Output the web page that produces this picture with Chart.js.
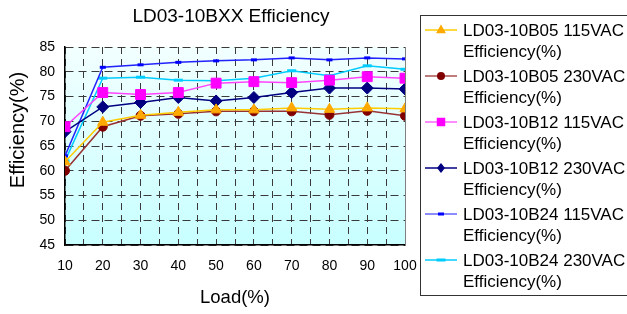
<!DOCTYPE html>
<html>
<head>
<meta charset="utf-8">
<script src="https://cdn.jsdelivr.net/npm/chart.js@4/dist/chart.umd.min.js"></script>
<style>
html,body{margin:0;padding:0;background:#fff;}
#wrap{width:627px;height:314px;position:relative;}
</style>
</head>
<body>
<div id="wrap"><canvas id="c" width="627" height="314"></canvas></div>
<script>
const loads = [10, 20, 30, 40, 50, 60, 70, 80, 90, 100];
const b05_115 = [61.8, 69.8, 71.2, 71.8, 72.3, 72.3, 72.7, 72.4, 72.7, 72.5];
const b05_230 = [60.0, 68.9, 71.1, 71.5, 72.0, 72.0, 72.0, 71.3, 72.1, 71.1];
const b12_115 = [68.9, 75.8, 75.4, 75.8, 77.7, 78.0, 77.8, 78.3, 79.0, 78.7];
const b12_230 = [67.9, 72.9, 73.8, 74.8, 74.1, 74.8, 75.8, 76.7, 76.7, 76.5];
const b24_115 = [63.0, 80.9, 81.4, 81.9, 82.2, 82.4, 82.8, 82.4, 82.8, 82.6];
const b24_230 = [62.0, 78.7, 78.9, 78.3, 78.2, 78.7, 80.2, 79.2, 81.2, 80.5];
const seriesNames = [
  ["LD03-10B05 115VAC", "Efficiency(%)"],
  ["LD03-10B05 230VAC", "Efficiency(%)"],
  ["LD03-10B12 115VAC", "Efficiency(%)"],
  ["LD03-10B12 230VAC", "Efficiency(%)"],
  ["LD03-10B24 115VAC", "Efficiency(%)"],
  ["LD03-10B24 230VAC", "Efficiency(%)"]
];
const yTicks = [45, 50, 55, 60, 65, 70, 75, 80, 85];
const xTickLabels = [10, 20, 30, 40, 50, 60, 70, 80, 90, 100];
const chartTitle = "LD03-10BXX Efficiency";
const xTitle = "Load(%)";
const yTitle = "Efficiency(%)";

const FONT = "'Liberation Sans', Arial, sans-serif";

const styles = [
  {line:'#FFCC00', legLine:'#FFCC00', mk:'#FFA800', shape:'triangle', r:6},
  {line:'#993333', legLine:'#A85050', mk:'#800000', shape:'circle', r:4.5},
  {line:'#FF44FF', legLine:'#FF66FF', mk:'#FF00FF', shape:'rect', r:7},
  {line:'#000080', legLine:'#000080', mk:'#000080', shape:'rectRot', r:6},
  {line:'#2222FF', legLine:'#6666FF', mk:'#0000FF', shape:'dashS', r:3},
  {line:'#00CCFF', legLine:'#00CCFF', mk:'#00CCFF', shape:'dashL', r:4.5}
];
const allData = [b05_115, b05_230, b12_115, b12_230, b24_115, b24_230];

function toXY(vals){ return vals.map((v,i)=>({x: loads[i], y: v})); }

const datasets = allData.map((d, i) => {
  const s = styles[i];
  let ps = s.shape, pr = s.r, pbw = 1;
  if (s.shape === 'dashS') { ps = 'line'; pr = 3; pbw = 3; }
  if (s.shape === 'dashL') { ps = 'line'; pr = 4.5; pbw = 3; }
  return {
    label: seriesNames[i].join(' '),
    data: toXY(d),
    borderColor: s.line,
    backgroundColor: s.mk,
    borderWidth: 1.5,
    pointStyle: ps,
    pointRadius: pr,
    pointBorderColor: s.mk,
    pointBackgroundColor: s.mk,
    pointBorderWidth: pbw,
    tension: 0
  };
});

function drawMarker(ctx, shape, r, color, x, y){
  ctx.save();
  ctx.fillStyle = color; ctx.strokeStyle = color;
  ctx.beginPath();
  if (shape === 'triangle') {
    ctx.moveTo(x, y - r); ctx.lineTo(x + r*0.9, y + r*0.6); ctx.lineTo(x - r*0.9, y + r*0.6); ctx.closePath(); ctx.fill();
  } else if (shape === 'circle') {
    ctx.arc(x, y, r, 0, Math.PI*2); ctx.fill();
  } else if (shape === 'rect') {
    const s = r*Math.SQRT1_2; ctx.rect(x - s, y - s, 2*s, 2*s); ctx.fill();
  } else if (shape === 'rectRot') {
    ctx.moveTo(x, y - r); ctx.lineTo(x + r*0.8, y); ctx.lineTo(x, y + r); ctx.lineTo(x - r*0.8, y); ctx.closePath(); ctx.fill();
  } else if (shape === 'dashS') {
    ctx.rect(x - 3, y - 1.5, 6, 3); ctx.fill();
  } else if (shape === 'dashL') {
    ctx.rect(x - 4.5, y - 1.5, 9, 3); ctx.fill();
  }
  ctx.restore();
}

const decor = {
  id: 'decor',
  beforeDraw(chart){
    const {ctx, chartArea: a} = chart;
    ctx.save();
    const g = ctx.createLinearGradient(0, a.top, 0, a.bottom);
    g.addColorStop(0, '#F2FFFF');
    g.addColorStop(1, '#C8FFFF');
    ctx.fillStyle = g;
    ctx.fillRect(a.left, a.top, a.right - a.left, a.bottom - a.top);
    ctx.restore();
  },
  beforeDatasetsDraw(chart){
    const {ctx, chartArea: a} = chart;
    ctx.save();
    ctx.strokeStyle = '#808080';
    ctx.lineWidth = 1;
    ctx.beginPath();
    ctx.moveTo(Math.round(a.right) + 0.5, a.top);
    ctx.lineTo(Math.round(a.right) + 0.5, a.bottom);
    ctx.stroke();
    ctx.restore();
  },
  afterDraw(chart){
    const {ctx, chartArea: a} = chart;
    ctx.save();
    ctx.fillStyle = '#000';
    ctx.textAlign = 'center';
    ctx.textBaseline = 'middle';
    ctx.font = '19px ' + FONT;
    ctx.fillText(chartTitle, 231, 17);
    ctx.font = '18.5px ' + FONT;
    ctx.fillText(xTitle, 235, 298);
    ctx.save();
    ctx.translate(18, 130);
    ctx.rotate(-Math.PI/2);
    ctx.font = '20px ' + FONT;
    ctx.fillText(yTitle, 0, 0);
    ctx.restore();

    // legend
    ctx.fillStyle = '#fff';
    ctx.fillRect(420.5, 15.5, 240, 280);
    ctx.strokeStyle = '#333';
    ctx.lineWidth = 1;
    ctx.strokeRect(420.5, 15.5, 240, 280);
    ctx.font = '17px ' + FONT;
    ctx.textAlign = 'left';
    ctx.fillStyle = '#000';
    seriesNames.forEach((nm, i) => {
      const s = styles[i];
      const y1 = 30 + 46*i;
      ctx.strokeStyle = s.legLine;
      ctx.lineWidth = 1.5;
      ctx.beginPath();
      ctx.moveTo(425, y1); ctx.lineTo(457, y1); ctx.stroke();
      drawMarker(ctx, s.shape, s.shape==='rect'?6:s.shape==='circle'?4:s.shape==='triangle'?5.5:5, s.mk, 441, y1);
      ctx.fillStyle = '#000';
      ctx.fillText(nm[0], 463, y1 + 1);
      ctx.fillText(nm[1], 463, y1 + 22);
    });
    ctx.restore();
  }
};

new Chart(document.getElementById('c'), {
  type: 'line',
  data: { datasets },
  options: {
    responsive: false,
    animation: false,
    layout: { padding: { top: 47, right: 222, left: 0, bottom: 0 } },
    plugins: { legend: { display: false }, title: { display: false }, tooltip: { enabled: false } },
    scales: {
      x: {
        type: 'linear',
        min: 10, max: 100,
        afterFit(scale){ scale.height = 69; },
        afterBuildTicks(scale){
          const t = [];
          for (let v = 10; v <= 100; v += 5) t.push({value: v});
          scale.ticks = t;
        },
        ticks: {
          autoSkip: false,
          maxRotation: 0,
          padding: 13,
          color: '#000',
          font: { family: FONT, size: 14 },
          callback: (v) => xTickLabels.includes(v) ? String(v) : ''
        },
        grid: { color: '#3a3a3a', lineWidth: 1, drawTicks: false },
        border: { color: '#000', width: 1.5, dash: [7, 5] }
      },
      y: {
        min: 45, max: 85,
        afterFit(scale){ scale.width = 65; },
        afterBuildTicks(scale){ scale.ticks = yTicks.map(v => ({value: v})); },
        ticks: {
          padding: 10,
          color: '#000',
          font: { family: FONT, size: 14 }
        },
        grid: { color: '#3a3a3a', lineWidth: 1, drawTicks: false },
        border: { color: '#000', width: 1.5, dash: [8, 5] }
      }
    }
  },
  plugins: [decor]
});
</script>
</body>
</html>
